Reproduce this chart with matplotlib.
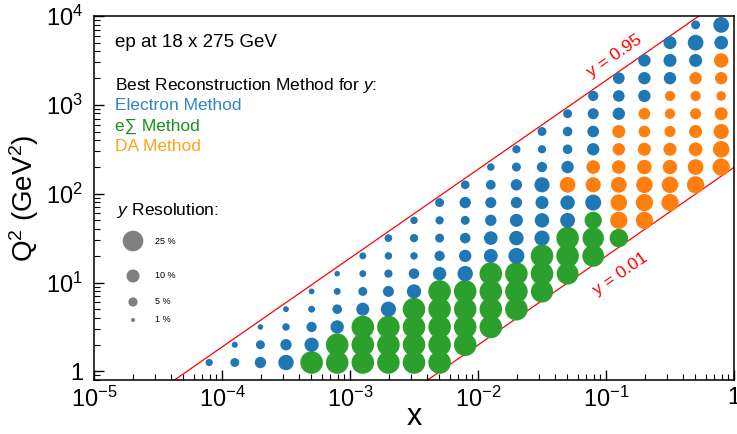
import numpy as np
import matplotlib
matplotlib.use("Agg")
import matplotlib.pyplot as plt
from matplotlib.ticker import LogLocator, FuncFormatter, NullFormatter

plt.rcParams['font.family'] = ['Liberation Sans', 'DejaVu Sans']
plt.rcParams['mathtext.fontset'] = 'custom'
plt.rcParams['mathtext.rm'] = 'Liberation Sans'
plt.rcParams['mathtext.it'] = 'Liberation Sans:italic'
plt.rcParams['mathtext.bf'] = 'Liberation Sans:bold'

# beam energies (GeV)
E_e = 18.0
E_p = 275.0

# bin centres (log10)
logx_bins = [-4.1, -3.9, -3.7, -3.5, -3.3, -3.1, -2.9, -2.7, -2.5, -2.3, -2.1,
             -1.9, -1.7, -1.5, -1.3, -1.1, -0.9, -0.7, -0.5, -0.3, -0.1]
logq2_bins = [0.1, 0.3, 0.5, 0.7, 0.9, 1.1, 1.3, 1.5, 1.7, 1.9,
              2.1, 2.3, 2.5, 2.7, 2.9, 3.1, 3.3, 3.5, 3.7, 3.9]

# first x bin filled in each Q2 row
row_start = [0, 1, 2, 3, 4, 5, 6, 7, 8, 9, 10, 11, 12, 13, 14, 15, 16, 17, 18, 19]

# y resolution (%) for each filled bin, row by row in Q2
resolution = [
    [3.1, 4.7, 7.6, 14, 30, 30, 30, 30, 30, 30],
    [2.2, 4.7, 7.6, 12, 30, 30, 30, 30, 30, 30],
    [1.8, 3.3, 6.2, 10.5, 30, 30, 30, 30, 30, 30],
    [2.0, 2.8, 5.4, 10, 13.5, 30, 30, 30, 30, 30],
    [2.0, 2.8, 4.7, 7.2, 12, 30, 30, 30, 30, 29],
    [1.8, 2.8, 4.0, 6.6, 10.6, 14, 30, 30, 30, 28],
    [2.8, 3.3, 3.3, 6.2, 9, 11.4, 15, 30, 30, 28],
    [3.5, 4.0, 4.7, 6.6, 11, 12.3, 13.5, 30, 27, 20],
    [3.3, 4.0, 4.7, 7.6, 10, 12.3, 13, 17.5, 17.5, 17.5],
    [4.7, 7.6, 7.2, 7.6, 10, 12.3, 15, 16, 17.5, 17.5],
    [4.5, 5.6, 7.6, 13.5, 14.5, 13.5, 14.5, 16, 16, 17.5],
    [3.3, 4.7, 6.2, 9, 11, 11, 12.3, 12.3, 14.5, 17.5],
    [4.0, 4.0, 5.4, 9, 9, 10, 10, 11, 16],
    [4.7, 5.4, 8, 10, 8, 7.2, 10, 13.5],
    [4.7, 7.2, 9, 8, 6.2, 7.2, 10],
    [6.2, 8, 9, 6.2, 6.2, 5.4],
    [8, 9, 9, 9, 9],
    [9, 10, 10, 12.3],
    [10, 14.6, 11],
    [4.7, 14.6],
]

# best method per bin: E = electron, S = e-Sigma, D = double angle
best_method = [
    "EEEESSSSSS",
    "EEEESSSSSS",
    "EEEESSSSSS",
    "EEEEESSSSS",
    "EEEEESSSSS",
    "EEEEEESSSS",
    "EEEEEEESSS",
    "EEEEEEESSS",
    "EEEEEEESDD",
    "EEEEEEEDDD",
    "EEEEDDDDDD",
    "EEEEDDDDDD",
    "EEEEDDDDD",
    "EEEDDDDD",
    "EEEDDDD",
    "EEEDDD",
    "EEEDD",
    "EEED",
    "EEE",
    "EE",
]

legend_res = [25, 10, 5, 1]
y_lines = [0.95, 0.01]

method_color = {'E': '#1f77b4', 'S': '#2ca02c', 'D': '#ff7f0e'}
size_per_pct = 8.8   # marker area (pt^2) per % resolution

fig = plt.figure(figsize=(7.37, 4.34), dpi=100)
ax = fig.add_axes([94/737, 1 - 380/434, 640/737, 364/434])

xs, qs, ss, cs = [], [], [], []
for j, row in enumerate(resolution):
    for i, r in enumerate(row):
        k = row_start[j] + i
        xs.append(10 ** logx_bins[k])
        qs.append(10 ** logq2_bins[j])
        ss.append(r * size_per_pct)
        cs.append(method_color[best_method[j][i]])
ax.scatter(xs, qs, s=ss, c=cs, linewidths=0, zorder=3)

# kinematic limits Q2 = x y s
s_cm = 4 * E_e * E_p
xl = np.logspace(-5, 0, 200)
for yv in y_lines:
    ax.plot(xl, xl * yv * s_cm, color='red', lw=0.9, zorder=2)

ax.text(10 ** -0.93, 10 ** 3.55, 'y = 0.95', color='red', fontsize=12.5,
        rotation=34.7, ha='center', va='center')
ax.text(10 ** -0.89, 10 ** 1.10, 'y = 0.01', color='red', fontsize=12.5,
        rotation=34.7, ha='center', va='center')

ax.set_xscale('log')
ax.set_yscale('log')
ax.set_xlim(1e-5, 1)
ax.set_ylim(0.8, 1e4)


def fmt(v, pos):
    n = int(round(np.log10(v)))
    if n == 0:
        return '1'
    return r'$10^{%d}$' % n


for axis in (ax.xaxis, ax.yaxis):
    axis.set_major_locator(LogLocator(base=10, numticks=10))
    axis.set_minor_locator(LogLocator(base=10, subs=np.arange(2, 10), numticks=20))
    axis.set_major_formatter(FuncFormatter(fmt))
    axis.set_minor_formatter(NullFormatter())

ax.tick_params(which='both', direction='in', top=False, right=False)
ax.tick_params(which='major', length=7, width=1, labelsize=17)
ax.tick_params(which='minor', length=4, width=0.8)
ax.tick_params(axis='x', which='major', pad=5)
ax.tick_params(axis='y', which='major', pad=8)
for sp in ax.spines.values():
    sp.set_linewidth(1.1)

ax.set_xlabel('x', fontsize=22)
ax.xaxis.set_label_coords(0.5, -0.06)
ax.set_ylabel(r'Q$^2$ (GeV$^2$)', fontsize=20)
ax.yaxis.set_label_coords(-0.083, 0.5)

# annotations
ax.text(0.033, 0.926, 'ep at 18 x 275 GeV', transform=ax.transAxes,
        fontsize=13.5, va='center', ha='left')
ax.text(0.033, 0.810, r'Best Reconstruction Method for $y$:', transform=ax.transAxes,
        fontsize=12.5, va='center', ha='left')
ax.text(0.033, 0.755, 'Electron Method', transform=ax.transAxes,
        fontsize=12.5, va='center', ha='left', color='#2f86c4')
ax.text(0.033, 0.698, 'e\u2211 Method', transform=ax.transAxes,
        fontsize=12.5, va='center', ha='left', color='#16911a')
ax.text(0.033, 0.641, 'DA Method', transform=ax.transAxes,
        fontsize=12.5, va='center', ha='left', color='#ffa319')
ax.text(0.036, 0.467, r'$y$ Resolution:', transform=ax.transAxes,
        fontsize=12.5, va='center', ha='left')

# size legend
leg_y = [(380 - 241) / 364, (380 - 276) / 364, (380 - 302) / 364, (380 - 320) / 364]
ax.scatter([(133 - 94) / 640] * len(legend_res), leg_y,
           s=[r * size_per_pct for r in legend_res], color='#808080',
           linewidths=0, transform=ax.transAxes, clip_on=False)
for r, yy in zip(legend_res, leg_y):
    ax.text((155 - 94) / 640, yy, '%d %%' % r, transform=ax.transAxes,
            fontsize=6.5, va='center', ha='left')

fig.savefig('out.png', dpi=100)
